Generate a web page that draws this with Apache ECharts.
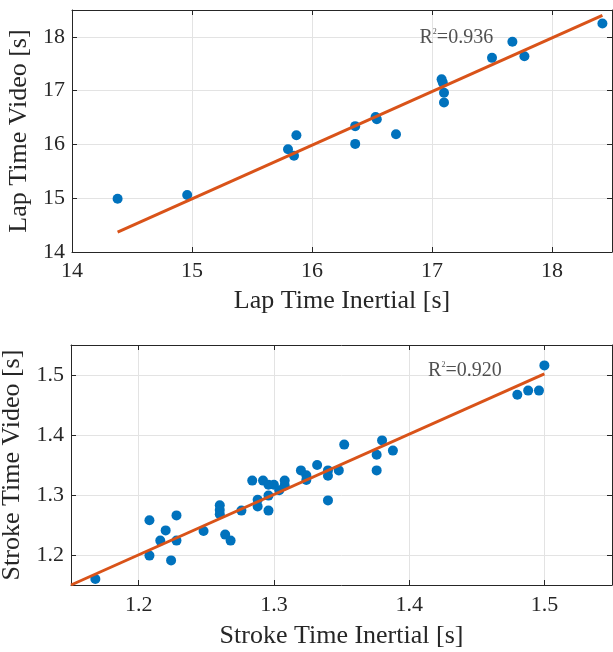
<!DOCTYPE html>
<html style="background-color: #fff;">
<head>
<meta charset="utf-8">
<script src="https://cdn.jsdelivr.net/npm/echarts@6/dist/echarts.min.js"></script>
<style>
  html, body { margin: 0; padding: 0; background: #fff; }
  #container { width: 613px; height: 652px; }
</style>
</head>
<body>
<div id="container"></div>
<script type="text/javascript">
// lap times (top panel)
var lapInertial = [14.38, 14.96, 15.80, 15.85, 15.87, 16.36, 16.36, 16.53, 16.54, 16.70,
                   17.08, 17.09, 17.10, 17.10, 17.50, 17.67, 17.77, 18.42];
var lapVideo    = [14.99, 15.06, 15.91, 15.79, 16.17, 16.34, 16.01, 16.51, 16.47, 16.19,
                   17.21, 17.15, 16.96, 16.78, 17.61, 17.91, 17.64, 18.25];
var lapFitX = [14.38, 18.42];
var lapFitY = [14.37, 18.40];
var lapR2 = '0.936';

// stroke times (bottom panel)
var strokeInertial = [1.168, 1.208, 1.208, 1.216, 1.220, 1.224, 1.228, 1.228, 1.248, 1.260,
                      1.260, 1.260, 1.264, 1.268, 1.276, 1.284, 1.288, 1.288, 1.292, 1.296,
                      1.296, 1.296, 1.300, 1.304, 1.308, 1.308, 1.320, 1.324, 1.324, 1.332,
                      1.340, 1.340, 1.340, 1.348, 1.352, 1.376, 1.376, 1.380, 1.388, 1.480,
                      1.488, 1.496, 1.500];
var strokeVideo    = [1.160, 1.258, 1.199, 1.224, 1.241, 1.191, 1.266, 1.224, 1.240, 1.283,
                      1.275, 1.268, 1.234, 1.224, 1.274, 1.324, 1.292, 1.281, 1.324, 1.317,
                      1.299, 1.274, 1.317, 1.308, 1.324, 1.316, 1.341, 1.333, 1.325, 1.350,
                      1.341, 1.332, 1.291, 1.341, 1.384, 1.367, 1.341, 1.391, 1.374, 1.467,
                      1.474, 1.474, 1.516];
var strokeFitX = [1.15, 1.50];
var strokeFitY = [1.150, 1.502];
var strokeR2 = '0.920';

var serif = 'Liberation Serif';
var ink = '#262626';

function pairs(xs, ys) {
    var out = [];
    for (var i = 0; i < xs.length; i++) out.push([xs[i], ys[i]]);
    return out;
}

// min/max fixed, ticks left to the nice-number logic so they land on 1.2, 1.3 ...
function valAxis(idx, min, max, split, opts) {
    var ax = {
        type: 'value',
        gridIndex: idx,
        min: min,
        max: max,
        splitNumber: split,
        axisLine: { show: true, onZero: false, lineStyle: { color: ink, width: 1 } },
        axisTick: { show: true, inside: true, length: 5, lineStyle: { color: ink } },
        axisLabel: { show: false },
        splitLine: { show: false }
    };
    for (var k in opts) ax[k] = opts[k];
    return ax;
}

function mainLabel(digits, margin) {
    return {
        show: true, color: ink, fontFamily: serif, fontSize: 22, margin: margin,
        showMinLabel: digits > 0 ? false : true, showMaxLabel: false,
        formatter: function (v) { return v.toFixed(digits); }
    };
}

var nameStyle = { color: ink, fontFamily: serif, fontSize: 26 };
var gridLine = { show: true, lineStyle: { color: '#e3e3e3', width: 1 } };

var dom = document.getElementById('container');
var myChart = echarts.init(dom);

var option = {
    animation: false,
    backgroundColor: '#fff',
    grid: [
        { left: 72, right: 1, top: 10, height: 242, outerBoundsMode: 'none' },
        { left: 71, right: 1, top: 345, height: 240, outerBoundsMode: 'none' }
    ],
    xAxis: [
        valAxis(0, 14, 18.5, 4, {
            position: 'bottom', splitLine: gridLine,
            axisLabel: mainLabel(0, 8),
            name: 'Lap Time Inertial [s]', nameLocation: 'middle', nameGap: 36, nameTextStyle: nameStyle
        }),
        valAxis(0, 14, 18.5, 4, { position: 'top' }),
        valAxis(1, 1.15, 1.55, 4, {
            position: 'bottom', splitLine: gridLine,
            axisLabel: mainLabel(1, 9),
            name: 'Stroke Time Inertial [s]', nameLocation: 'middle', nameGap: 38, nameTextStyle: nameStyle
        }),
        valAxis(1, 1.15, 1.55, 4, { position: 'top' })
    ],
    yAxis: [
        valAxis(0, 14, 18.5, 4, {
            position: 'left', splitLine: gridLine,
            axisLabel: mainLabel(0, 7),
            name: 'Lap Time Video [s]', nameLocation: 'middle', nameGap: 37, nameTextStyle: nameStyle
        }),
        valAxis(0, 14, 18.5, 4, { position: 'right' }),
        valAxis(1, 1.15, 1.55, 4, {
            position: 'left', splitLine: gridLine,
            axisLabel: mainLabel(1, 7),
            name: 'Stroke Time Video [s]', nameLocation: 'middle', nameGap: 41, nameTextStyle: nameStyle
        }),
        valAxis(1, 1.15, 1.55, 4, { position: 'right' })
    ],
    series: [
        {
            type: 'scatter', xAxisIndex: 0, yAxisIndex: 0,
            data: pairs(lapInertial, lapVideo),
            symbolSize: 10, itemStyle: { color: '#0072BD', opacity: 1 }, z: 2
        },
        {
            type: 'line', xAxisIndex: 0, yAxisIndex: 0,
            data: pairs(lapFitX, lapFitY), showSymbol: false, symbol: 'none',
            lineStyle: { color: '#D95319', width: 3 }, z: 3
        },
        {
            type: 'scatter', xAxisIndex: 2, yAxisIndex: 2,
            data: pairs(strokeInertial, strokeVideo),
            symbolSize: 10, itemStyle: { color: '#0072BD', opacity: 1 }, z: 2
        },
        {
            type: 'line', xAxisIndex: 2, yAxisIndex: 2,
            data: pairs(strokeFitX, strokeFitY), showSymbol: false, symbol: 'none',
            lineStyle: { color: '#D95319', width: 3 }, z: 3
        },
        // R^2 annotations
        {
            type: 'scatter', xAxisIndex: 0, yAxisIndex: 0, symbolSize: 0, silent: true, z: 4,
            data: [[16.896, 17.99]],
            label: {
                show: true, position: 'right', distance: 0,
                formatter: '{a|R}{s|2}{a|=' + lapR2 + '}',
                rich: {
                    a: { fontFamily: serif, fontSize: 20, color: ink },
                    s: { fontFamily: serif, fontSize: 8, color: ink, verticalAlign: 'top' }
                }
            }
        },
        {
            type: 'scatter', xAxisIndex: 2, yAxisIndex: 2, symbolSize: 0, silent: true, z: 4,
            data: [[1.414, 1.507]],
            label: {
                show: true, position: 'right', distance: 0,
                formatter: '{a|R}{s|2}{a|=' + strokeR2 + '}',
                rich: {
                    a: { fontFamily: serif, fontSize: 20, color: ink },
                    s: { fontFamily: serif, fontSize: 8, color: ink, verticalAlign: 'top' }
                }
            }
        }
    ]
};

myChart.setOption(option);
</script>
</body>
</html>
